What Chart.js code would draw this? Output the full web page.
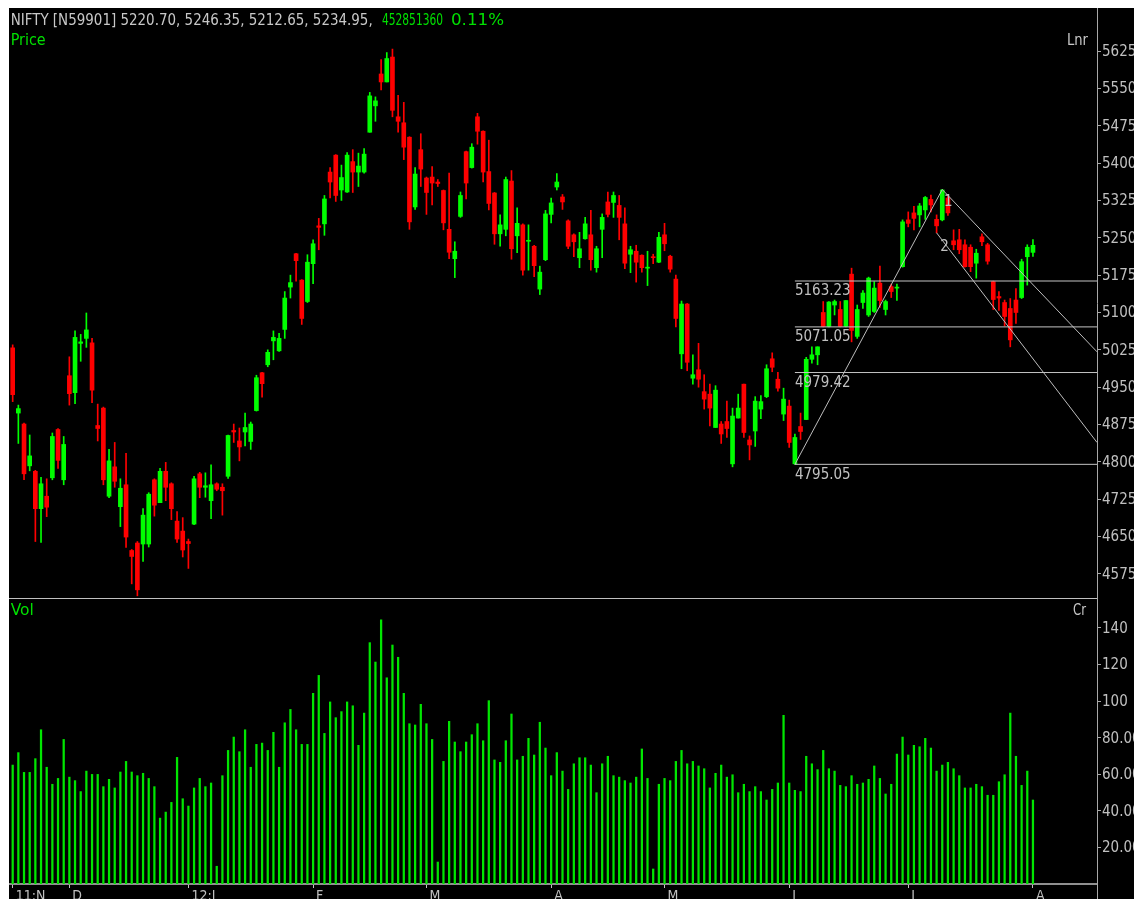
<!DOCTYPE html>
<html><head><meta charset="utf-8">
<script src="https://cdn.jsdelivr.net/npm/chart.js@4.4.0/dist/chart.umd.min.js"></script>
<style>
html,body{margin:0;padding:0;background:#fff;width:1134px;height:899px;overflow:hidden;}
#frame{position:absolute;left:9px;top:8px;width:1125px;height:891px;background:#000;}
canvas{position:absolute;}
#pc{left:9px;top:8px;}
#vc{left:9px;top:598px;}
#ov{position:absolute;left:0;top:0;pointer-events:none;}
#ov text{font-family:"Liberation Sans Narrow","DejaVu Sans Condensed","Liberation Sans",sans-serif;font-size:16px;}
</style></head><body>
<div id="frame"></div>
<canvas id="pc" width="1125" height="590"></canvas>
<canvas id="vc" width="1125" height="301"></canvas>
<div style="position:absolute;left:9px;top:598px;width:1088px;height:1px;background:#c0c0c0"></div>
<div style="position:absolute;left:1097px;top:884px;width:1px;height:15px;background:#a8a8a8"></div>
<svg id="ov" width="1134" height="899">
  <text x="10.7" y="25" fill="#c8c8c8" textLength="362" lengthAdjust="spacingAndGlyphs">NIFTY [N59901] 5220.70, 5246.35, 5212.65, 5234.95,</text>
  <text x="382" y="25" fill="#00e000" textLength="61" lengthAdjust="spacingAndGlyphs">452851360</text>
  <text x="451" y="25" fill="#00e000" textLength="53" lengthAdjust="spacingAndGlyphs">0.11%</text>
  <text x="10.7" y="45" fill="#00e000" textLength="35" lengthAdjust="spacingAndGlyphs">Price</text>
  <text x="1067" y="45" fill="#c8c8c8" textLength="21" lengthAdjust="spacingAndGlyphs">Lnr</text>
  <text x="10.7" y="615" fill="#00e000" textLength="23" lengthAdjust="spacingAndGlyphs">Vol</text>
  <text x="1073" y="615" fill="#c8c8c8" textLength="13" lengthAdjust="spacingAndGlyphs">Cr</text>
</svg>
<script>
// ---------------- data ----------------
const opens = [5029,4898,4876,4792,4781,4706,4731,4768,4865,4764,
4973,4939,5038,5048,5039,4873,4908,4731,4790,4710,
4754,4622,4637,4635,4635,4764,4718,4781,4756,4681,
4661,4640,4675,4776,4749,4722,4756,4749,4771,4863,
4842,4860,4841,4903,4979,4995,5043,5023,5066,5151,
5218,5165,5122,5198,5274,5278,5382,5416,5346,5342,
5403,5382,5382,5462,5515,5579,5563,5613,5493,5481,
5452,5312,5427,5370,5372,5362,5345,5267,5208,5293,
5423,5391,5493,5464,5383,5340,5258,5267,5364,5254,
5276,5243,5233,5147,5206,5297,5352,5332,5284,5256,
5210,5248,5256,5190,5267,5322,5321,5315,5278,5217,
5223,5215,5189,5212,5201,5256,5213,5167,5017,5117,
4968,4985,4941,4936,4869,4876,4881,4796,4888,4956,
4844,4862,4906,4931,5007,4966,4896,4912,4796,4871,
4885,5006,5015,5100,5072,5115,5106,5072,5177,5052,
5120,5095,5102,5159,5106,5152,5149,5192,5286,5300,
5296,5306,5327,5287,5286,5330,5244,5246,5236,5231,
5199,5252,5236,5162,5132,5120,5108,5125,5130,5212,
5220.70];
const highs = [5035,4914,4878,4854,4783,4769,4766,4858,4867,4851,
5011,5063,5056,5099,5048,4916,4910,4825,4839,4766,
4817,4624,4640,4706,4738,4766,4787,4799,4758,4700,
4688,4645,4771,4779,4778,4794,4758,4756,4854,4876,
4868,4898,4880,4974,4980,5025,5063,5058,5142,5175,
5219,5166,5216,5246,5289,5335,5391,5417,5396,5421,
5427,5420,5429,5542,5533,5608,5622,5629,5536,5522,
5453,5391,5459,5372,5393,5367,5346,5380,5242,5342,
5424,5439,5500,5465,5446,5341,5296,5372,5385,5310,
5278,5276,5235,5193,5305,5330,5379,5337,5286,5258,
5261,5291,5305,5233,5298,5342,5342,5335,5310,5233,
5235,5216,5223,5217,5261,5279,5215,5175,5123,5118,
5015,5038,4975,4956,4953,4881,4922,4908,4936,4956,
4852,4931,4933,4995,5019,4980,4948,4924,4856,4898,
5010,5031,5031,5122,5122,5125,5122,5124,5189,5115,
5144,5171,5162,5193,5125,5157,5157,5286,5302,5313,
5319,5333,5336,5296,5347.05,5335,5266,5267,5246,5236,
5227,5258,5239,5163,5142,5125,5128,5148,5207,5236,
5246.35];
const lows = [4921,4837,4764,4782,4640,4638,4690,4764,4787,4754,
4914,4917,5002,5030,4919,4842,4754,4728,4749,4670,
4628,4555,4531,4600,4629,4691,4718,4722,4684,4638,
4609,4586,4674,4728,4729,4686,4742,4693,4767,4839,
4802,4832,4825,4902,4930,4991,5005,5022,5048,5129,
5163,5076,5120,5158,5226,5255,5330,5323,5325,5341,
5341,5353,5380,5462,5484,5547,5563,5493,5462,5407,
5267,5307,5353,5297,5316,5353,5266,5208,5170,5291,
5328,5390,5438,5362,5306,5237,5233,5254,5207,5220,
5175,5185,5172,5136,5204,5280,5346,5307,5228,5212,
5190,5247,5185,5181,5210,5292,5291,5246,5188,5180,
5161,5181,5154,5198,5200,5224,5181,5071,4987,4983,
4956,4950,4906,4872,4869,4837,4849,4790,4888,4849,
4804,4831,4887,4929,4981,4942,4883,4829,4795.05,4845,
4885,4998,4995,5071,5071,5095,5071,5071,5041,5048,
5108,5092,5100,5110,5095,5130,5124,5191,5272,5266,
5272,5287,5302,5260,5284,5295,5226,5218,5191,5182,
5169,5234,5197,5106,5104,5073,5031,5078,5128,5155,
5212.65];
const closes = [4935,4907,4776,4812,4706,4756,4709,4851,4803,4835,
4937,5050,5041,5065,4944,4867,4764,4802,4761,4747,
4649,4610,4543,4693,4735,4713,4781,4749,4706,4645,
4623,4636,4766,4749,4752,4754,4745,4742,4853,4860,
4830,4869,4876,4969,4957,5020,5050,5048,5129,5160,
5204,5088,5201,5238,5271,5328,5362,5335,5371,5416,
5382,5394,5418,5535,5525,5563,5610,5506,5484,5432,
5282,5378,5388,5341,5360,5359,5280,5221,5223,5335,
5360,5432,5464,5382,5319,5258,5276,5367,5228,5279,
5185,5245,5194,5181,5298,5320,5362,5322,5233,5242,
5228,5278,5206,5228,5291,5297,5335,5291,5199,5226,
5201,5190,5191,5210,5251,5238,5187,5088,5117,5000,
4975,4966,4926,4908,4944,4856,4867,4892,4908,4859,
4834,4922,4921,4987,4990,4948,4926,4839,4849,4861,
5006,5015,5031,5072,5121,5122,5072,5124,5064,5106,
5139,5169,5149,5124,5122,5142,5151,5282,5279,5289,
5314,5331,5316,5274,5346,5300,5236,5226,5192,5192,
5219,5242,5203,5126,5129,5092,5045,5100,5202,5231,
5234.95];
const volumes = [65,71.8,61,61,68.5,84.3,63.8,54.5,57.7,79,
58.4,56.5,50.5,61.7,59.9,59.9,53.2,57.2,52.5,61.2,
67,61.2,59.2,60.5,57.7,53.2,36,39.3,44.6,69.2,
46.6,42.6,52.5,57.7,53.2,55.2,9.7,59.2,73,80.3,
72.3,84.3,63.8,76.3,77,73,82.9,63.8,88.1,95.4,
84.3,76.3,76.3,104.2,114,82.3,99.5,90.9,94.2,99.5,
97.4,75.8,93.4,131.9,121.3,144.4,112.7,130.6,123.9,104.2,
87.6,86.9,98.2,87.6,79,12,67,88.9,77.6,72.3,
77.6,81.6,87.6,78.3,100.2,67.8,66.5,78.3,92.9,67.8,
69.8,79.6,70.5,88.4,74.3,59.2,71.8,61.7,51.7,65.7,
69,69,65,49.9,65.7,69.8,59.2,58.4,56.5,55.2,
58.4,73.8,57.7,8.2,54.5,57.7,56.5,67,73,65.7,
67,64.5,63,52.5,60.5,65,58.4,59.7,49.9,54.5,
50.5,53.2,50.5,45.9,51.7,55.2,92.2,55.2,51.2,50.5,
69.8,65.7,62.5,73,63,61.7,53.9,53.2,59.2,54.5,
55.2,57.2,64.5,57.7,49.2,54.5,71,80.3,70.5,75.8,
75,79.6,74.3,61.7,65,66.5,63,59.2,52.5,52.5,
54.5,53.2,48.5,48.5,55.9,59.7,93.4,69.8,53.9,61.7,
45.9];
const monthBars   = [1, 11, 32, 54, 74, 96, 116, 138, 159, 181];
const monthLabels = ['11:N','D','12:J','F','M','A','M','J','J','A'];
const priceTicks  = [4575,4650,4725,4800,4875,4950,5025,5100,5175,5250,5325,5400,5475,5550,5625];
const volTicks    = [20,40,60,80,100,120,140];
const fibLevels   = [5163.23, 5071.05, 4979.42, 4795.05];
const swingLowBar = 139, swingLowPrice = 4795.05;
const swingHighBar = 165, swingHighPrice = 5347.05;
const line1EndPrice = 5021;          // value of line 1 at the right edge
const line2StartBar = 164, line2StartPrice = 5260, line2EndPrice = 4839;

// ---------------- chart setup ----------------
const xMin = 0.35, xMax = 192.3;
const priceMin = 4526.6, priceMax = 5711.5;
const volMax = 156.3;
const FAM = '"Liberation Sans Narrow","DejaVu Sans Condensed","Liberation Sans",sans-serif';
const GRAY = '#c0c0c0', AXIS = '#a8a8a8';
const GREEN = '#00ff00', RED = '#ff0000';

const bars = opens.map((_, i) => i + 1);
const colors = bars.map((_, i) => closes[i] >= opens[i] ? GREEN : RED);

function rightLabels(fmt) {
  return {
    id: 'rightLabels',
    afterDraw(chart) {
      const s = chart.scales.y, ctx = chart.ctx;
      ctx.save();
      ctx.font = '15px ' + FAM;
      ctx.fillStyle = GRAY; ctx.textAlign = 'left'; ctx.textBaseline = 'middle';
      s.ticks.forEach(t => ctx.fillText(fmt(t.value), s.left + 5, s.getPixelForValue(t.value) + 1));
      ctx.restore();
    }
  };
}

const annot = {
  id: 'annot',
  afterDatasetsDraw(chart) {
    const {ctx, scales: {x, y}} = chart;
    ctx.save();
    ctx.font = '15px ' + FAM;
    ctx.fillStyle = GRAY; ctx.textAlign = 'left'; ctx.textBaseline = 'top';
    fibLevels.forEach(v => ctx.fillText(v.toFixed(2), x.getPixelForValue(swingLowBar), y.getPixelForValue(v) + 3));
    ctx.textAlign = 'center'; ctx.textBaseline = 'middle';
    ctx.fillText('1', x.getPixelForValue(swingHighBar + 1.05), y.getPixelForValue(swingHighPrice - 25));
    ctx.fillText('2', x.getPixelForValue(swingHighBar + 0.4), y.getPixelForValue(line2StartPrice - 29));
    ctx.restore();
  }
};

const lineDs = (pts, color) => ({
  type: 'line', data: pts, borderColor: color, borderWidth: 1,
  pointRadius: 0, fill: false, tension: 0, order: 0
});

const priceDatasets = [
  {type: 'bar', data: bars.map((b, i) => ({x: b, y: [lows[i], highs[i]]})),
   backgroundColor: colors, barThickness: 1, grouped: false, order: 3},
  {type: 'bar', data: bars.map((b, i) => ({x: b, y: [opens[i], closes[i]]})),
   backgroundColor: colors, barThickness: 4, grouped: false, minBarLength: 1, order: 2},
];
fibLevels.forEach(v => priceDatasets.push(lineDs([{x: swingLowBar, y: v}, {x: xMax, y: v}], '#c4c4c4')));
priceDatasets.push(lineDs([{x: swingLowBar, y: swingLowPrice}, {x: swingHighBar, y: swingHighPrice}], '#bdbdbd'));
priceDatasets.push(lineDs([{x: swingHighBar, y: swingHighPrice}, {x: xMax, y: line1EndPrice}], '#bdbdbd'));
priceDatasets.push(lineDs([{x: line2StartBar, y: line2StartPrice}, {x: xMax, y: line2EndPrice}], '#bdbdbd'));

const common = {
  responsive: false, animation: false, devicePixelRatio: 1,
  layout: {padding: 0},
  plugins: {legend: {display: false}, tooltip: {enabled: false}},
};

new Chart(document.getElementById('pc'), {
  type: 'bar',
  data: {datasets: priceDatasets},
  options: Object.assign({}, common, {
    scales: {
      x: {type: 'linear', min: xMin, max: xMax, display: false, offset: false, grid: {offset: false}},
      y: {type: 'linear', position: 'right', min: priceMin, max: priceMax,
          afterFit(s) { s.width = 37; },
          afterBuildTicks(s) { s.ticks = priceTicks.map(v => ({value: v})); },
          ticks: {display: false},
          grid: {drawOnChartArea: false, drawTicks: true, tickLength: 4, color: AXIS},
          border: {color: AXIS, width: 1}}
    }
  }),
  plugins: [rightLabels(v => String(v)), annot]
});

new Chart(document.getElementById('vc'), {
  type: 'bar',
  data: {datasets: [{data: bars.map((b, i) => ({x: b, y: volumes[i]})),
    backgroundColor: '#00e600', barThickness: 1.6, grouped: false}]},
  options: Object.assign({}, common, {
    scales: {
      x: {type: 'linear', min: xMin, max: xMax, offset: false,
          afterFit(s) { s.height = 15; },
          afterBuildTicks(s) { s.ticks = monthBars.map(v => ({value: v})); },
          ticks: {autoSkip: false, maxRotation: 0, align: 'start', labelOffset: 3, padding: 0,
                  color: GRAY, font: {family: FAM, size: 14},
                  callback: (v, i) => monthLabels[i]},
          grid: {offset: false, drawOnChartArea: false, drawTicks: true, tickLength: 4, color: GRAY},
          border: {color: '#909090', width: 2}},
      y: {type: 'linear', position: 'right', min: 0, max: volMax,
          afterFit(s) { s.width = 37; },
          afterBuildTicks(s) { s.ticks = volTicks.map(v => ({value: v})); },
          ticks: {display: false},
          grid: {drawOnChartArea: false, drawTicks: true, tickLength: 4, color: AXIS},
          border: {color: AXIS, width: 1}}
    }
  }),
  plugins: [rightLabels(v => v < 100 ? v.toFixed(2) : String(v))]
});
</script>
</body></html>
